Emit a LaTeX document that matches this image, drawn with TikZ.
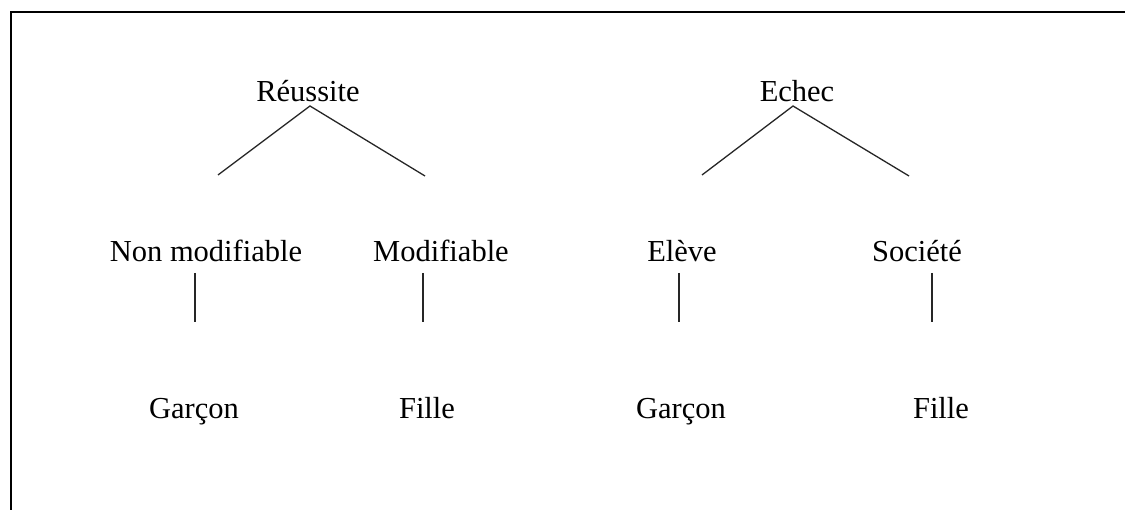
\documentclass[tikz,border=0pt]{standalone}
\usepackage{fontspec}
\setmainfont{Liberation Serif}
\begin{document}
\begin{tikzpicture}[x=1pt,y=-1pt,
  lbl/.style={anchor=base,inner sep=0pt,font=\fontsize{30.5}{35}\selectfont},
  link/.style={line width=1.3pt,draw=black!85}]
\useasboundingbox (0,0) rectangle (1125,510);
% frame (top and left)
\draw[line width=2pt] (1125,12.5) -- (10.5,12.5) -- (10.5,510);
% nodes
\node[lbl] (r) at (308,102) {Réussite};
\node[lbl] (e) at (797,102) {Echec};
\node[lbl] (nm) at (206,262) {Non modifiable};
\node[lbl] (m) at (441,262) {Modifiable};
\node[lbl] (el) at (682,262) {Elève};
\node[lbl] (so) at (917,262) {Société};
\node[lbl] (g1) at (194,419) {Garçon};
\node[lbl] (f1) at (427,419) {Fille};
\node[lbl] (g2) at (681,419) {Garçon};
\node[lbl] (f2) at (941,419) {Fille};
% connector end points
\coordinate (ra) at (310,106);
\coordinate (rl) at (218,175);
\coordinate (rr) at (425,176);
\coordinate (ea) at (793,106);
\coordinate (el1) at (702,175);
\coordinate (er) at (909,176);
\coordinate (v1a) at (195,273); \coordinate (v1b) at (195,322);
\coordinate (v2a) at (423,273); \coordinate (v2b) at (423,322);
\coordinate (v3a) at (679,273); \coordinate (v3b) at (679,322);
\coordinate (v4a) at (932,273); \coordinate (v4b) at (932,322);
\draw[link] (rl) -- (ra) -- (rr);
\draw[link] (el1) -- (ea) -- (er);
\draw[link] (v1a) -- (v1b);
\draw[link] (v2a) -- (v2b);
\draw[link] (v3a) -- (v3b);
\draw[link] (v4a) -- (v4b);
\end{tikzpicture}
\end{document}
